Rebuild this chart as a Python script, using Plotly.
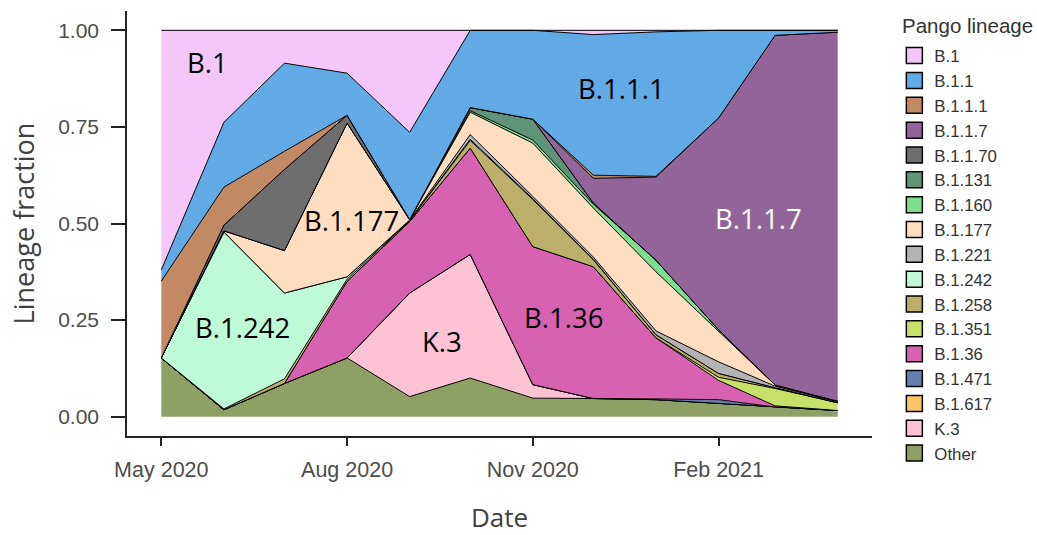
import plotly.graph_objects as go

dates = ["2020-05-01", "2020-06-01", "2020-07-01", "2020-08-01", "2020-09-01", "2020-10-01",
         "2020-11-01", "2020-12-01", "2021-01-01", "2021-02-01", "2021-03-01", "2021-04-01"]

# lineage fractions per month (stack order bottom -> top)
other  = [0.152, 0.018, 0.086, 0.152, 0.052, 0.100, 0.048, 0.047, 0.044, 0.035, 0.025, 0.016]
k3     = [0, 0, 0, 0, 0.268, 0.320, 0.035, 0, 0, 0, 0, 0]
b1617  = [0, 0, 0, 0, 0, 0, 0, 0, 0, 0, 0, 0]
b1471  = [0, 0, 0, 0, 0, 0, 0, 0, 0.002, 0.009, 0, 0]
b136   = [0, 0, 0, 0.198, 0.185, 0.275, 0.357, 0.341, 0.158, 0.050, 0.003, 0]
b1351  = [0, 0, 0, 0, 0, 0, 0, 0, 0, 0.008, 0.045, 0.020]
b1258  = [0, 0.002, 0.012, 0.006, 0.002, 0.020, 0.122, 0.018, 0.008, 0.010, 0.002, 0]
b1242  = [0, 0.458, 0.222, 0.006, 0.001, 0.003, 0.002, 0.001, 0, 0, 0, 0]
b1221  = [0, 0, 0, 0, 0.001, 0.012, 0.006, 0.006, 0.010, 0.030, 0.004, 0.002]
b1177  = [0, 0.003, 0.110, 0.398, 0.001, 0.058, 0.138, 0.127, 0.153, 0.078, 0.003, 0.002]
b1160  = [0, 0, 0, 0, 0, 0.004, 0.008, 0.010, 0.030, 0.005, 0, 0]
b1131  = [0, 0, 0, 0, 0, 0.008, 0.054, 0.003, 0, 0, 0, 0]
b1170  = [0, 0.015, 0.210, 0.020, 0, 0, 0, 0, 0, 0, 0, 0]
b117   = [0, 0, 0, 0, 0, 0, 0, 0.064, 0.215, 0.548, 0.905, 0.955]
b111   = [0.199, 0.098, 0.047, 0, 0, 0, 0, 0.008, 0.002, 0, 0, 0]
b11    = [0.029, 0.168, 0.228, 0.109, 0.226, 0.200, 0.230, 0.364, 0.374, 0.227, 0.013, 0.005]
b1     = [0.620, 0.238, 0.085, 0.111, 0.264, 0, 0, 0.010, 0.004, 0, 0, 0]

names = ["Other", "K.3", "B.1.617", "B.1.471", "B.1.36", "B.1.351", "B.1.258", "B.1.242",
         "B.1.221", "B.1.177", "B.1.160", "B.1.131", "B.1.1.70", "B.1.1.7", "B.1.1.1", "B.1.1", "B.1"]
values = [other, k3, b1617, b1471, b136, b1351, b1258, b1242,
          b1221, b1177, b1160, b1131, b1170, b117, b111, b11, b1]
colors = ["#8FA067", "#FDC3D4", "#FCC566", "#6680AD", "#D862B2", "#C7E06A", "#BBAF6A", "#BFFAD6",
          "#B3B3B3", "#FEDDC1", "#7FDE8E", "#5F9479", "#6E6E6E", "#93649A", "#C18A64", "#62AAE6", "#F4C6FA"]

fig = go.Figure()
for n, v, c in zip(names, values, colors):
    fig.add_trace(go.Scatter(x=dates, y=v, name=n, stackgroup="one", mode="lines",
                             line=dict(color="black", width=1), fillcolor=c,
                             showlegend=False, hoverinfo="x+y+name"))

# legend swatches (top -> bottom)
for n, c in zip(names[::-1], colors[::-1]):
    fig.add_trace(go.Scatter(x=[None], y=[None], mode="markers", name=n,
                             marker=dict(symbol="square", size=16, color=c,
                                         line=dict(color="black", width=1.5))))

labels = [
    ("B.1", "2020-05-24", 0.917, "black"),
    ("B.1.1.1", "2020-12-15", 0.85, "black"),
    ("B.1.177", "2020-08-03", 0.509, "black"),
    ("B.1.1.7", "2021-02-21", 0.514, "white"),
    ("B.1.242", "2020-06-10", 0.23, "black"),
    ("K.3", "2020-09-17", 0.194, "black"),
    ("B.1.36", "2020-11-16", 0.256, "black"),
]
for t, x, y, col in labels:
    fig.add_annotation(x=x, y=y, text=t, showarrow=False,
                       font=dict(family="Open Sans", size=27.5, color=col))

# legend title
fig.add_annotation(xref="paper", yref="paper", x=1.0376, y=0.967, xanchor="left", yanchor="middle",
                   text="Pango lineage", showarrow=False,
                   font=dict(family="Liberation Sans", size=20.5, color="#333333"))

fig.update_layout(
    width=1037, height=535,
    margin=dict(l=127, r=165, t=11, b=99, autoexpand=False),
    plot_bgcolor="white", paper_bgcolor="white",
    font=dict(family="Liberation Sans", color="#4D4D4D"),
    legend=dict(x=1.03, y=0.936, xanchor="left", yanchor="top", maxheight=530,
                font=dict(size=16.8, color="#333333"), itemsizing="trace",
                traceorder="normal", bgcolor="rgba(0,0,0,0)"),
    xaxis=dict(range=["2020-04-14", "2021-04-18"], showgrid=False, zeroline=False,
               tickvals=["2020-05-01", "2020-08-01", "2020-11-01", "2021-02-01"],
               ticktext=["May 2020", "Aug 2020", "Nov 2020", "Feb 2021"],
               ticks="outside", ticklen=8, tickwidth=1.5, tickcolor="#222222",
               showline=True, linecolor="#222222", linewidth=1.5, ticklabelstandoff=5,
               tickfont=dict(size=21.5, color="#4D4D4D"),
               title=dict(text="Date", font=dict(family="Open Sans", size=26, color="#404040"), standoff=34)),
    yaxis=dict(range=[-0.05, 1.05], showgrid=False, zeroline=False,
               tickvals=[0, 0.25, 0.5, 0.75, 1.0], tickformat=".2f",
               ticks="outside", ticklen=14, tickwidth=1.5, tickcolor="#222222",
               showline=True, linecolor="#222222", linewidth=1.5, ticklabelstandoff=8,
               tickfont=dict(size=21, color="#4D4D4D"),
               title=dict(text="Lineage fraction", font=dict(family="Open Sans", size=27, color="#404040"), standoff=16)),
)

fig.write_html("out.html", config={"displayModeBar": False},
               post_script="document.body.style.margin='0px';")
